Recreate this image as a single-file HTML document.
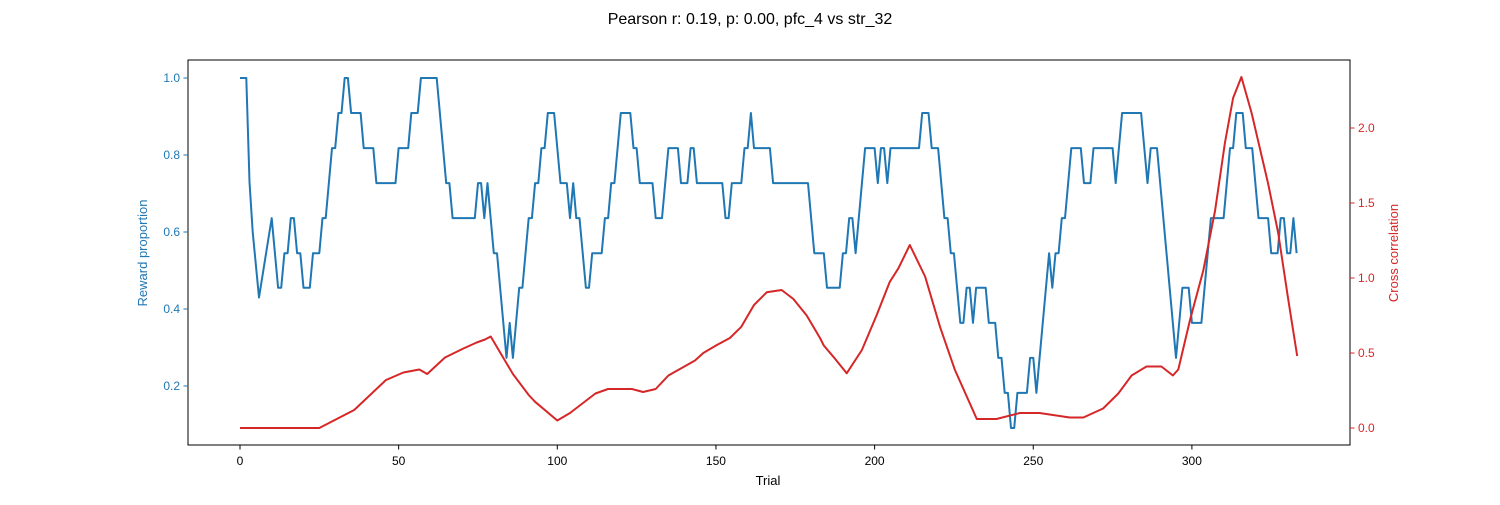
<!DOCTYPE html>
<html><head><meta charset="utf-8"><style>
body{margin:0;background:#fff}
svg text{font-family:"Liberation Sans","DejaVu Sans",sans-serif}
</style></head><body>
<svg id="chart" width="1500" height="500" xmlns="http://www.w3.org/2000/svg">
<rect width="1500" height="500" fill="#fff"/>
<text x="750" y="24" text-anchor="middle" font-size="16">Pearson r: 0.19, p: 0.00, pfc_4 vs str_32</text>
<g id="marks"></g>
<rect x="188" y="60" width="1162" height="385" fill="none" stroke="#000" stroke-width="1"/>
<g id="axes"></g>
<text x="768" y="485" text-anchor="middle" font-size="13">Trial</text>
<text transform="translate(147,253) rotate(-90)" text-anchor="middle" font-size="13" fill="#1f77b4">Reward proportion</text>
<text transform="translate(1398,253) rotate(-90)" text-anchor="middle" font-size="13" fill="#d62728">Cross correlation</text>
</svg>
<script>
const xTicks=[0,50,100,150,200,250,300];
const leftTicks=[0.2,0.4,0.6,0.8,1.0];
const rightTicks=[0.0,0.5,1.0,1.5,2.0];
const rewardTrials=[0,2,3,4,6,10,12,13,14,15,16,17,18,19,20,22,23,25,26,27,29,30,31,32,33,34,35,38,39,42,43,49,50,53,54,56,57,62,65,66,67,74,75,76,77,78,80,81,84,85,86,88,89,91,92,93,94,95,96,97,99,101,103,104,105,106,107,109,110,111,114,115,116,117,118,120,123,124,125,126,130,131,133,135,138,139,141,142,143,144,152,153,154,155,158,159,160,161,162,167,168,179,181,184,185,189,190,191,192,193,194,197,200,201,202,203,204,205,214,215,217,218,220,222,223,224,225,227,228,229,230,231,232,235,236,238,239,240,241,242,243,244,245,248,249,250,251,255,256,257,258,259,260,262,265,266,268,269,275,276,278,284,286,287,289,295,297,299,300,303,306,310,312,313,314,316,317,319,321,324,325,327,328,329,330,331,332,333];
const rewardValues=[1,1,0.73,0.6,0.43,0.636,0.455,0.455,0.545,0.545,0.636,0.636,0.545,0.545,0.455,0.455,0.545,0.545,0.636,0.636,0.818,0.818,0.909,0.909,1,1,0.909,0.909,0.818,0.818,0.727,0.727,0.818,0.818,0.909,0.909,1,1,0.727,0.727,0.636,0.636,0.727,0.727,0.636,0.727,0.545,0.545,0.273,0.364,0.273,0.455,0.455,0.636,0.636,0.727,0.727,0.818,0.818,0.909,0.909,0.727,0.727,0.636,0.727,0.636,0.636,0.455,0.455,0.545,0.545,0.636,0.636,0.727,0.727,0.909,0.909,0.818,0.818,0.727,0.727,0.636,0.636,0.818,0.818,0.727,0.727,0.818,0.818,0.727,0.727,0.636,0.636,0.727,0.727,0.818,0.818,0.909,0.818,0.818,0.727,0.727,0.545,0.545,0.455,0.455,0.545,0.545,0.636,0.636,0.545,0.818,0.818,0.727,0.818,0.818,0.727,0.818,0.818,0.909,0.909,0.818,0.818,0.636,0.636,0.545,0.545,0.364,0.364,0.455,0.455,0.364,0.455,0.455,0.364,0.364,0.273,0.273,0.182,0.182,0.091,0.091,0.182,0.182,0.273,0.273,0.182,0.545,0.455,0.545,0.545,0.636,0.636,0.818,0.818,0.727,0.727,0.818,0.818,0.727,0.909,0.909,0.727,0.818,0.818,0.273,0.455,0.455,0.364,0.364,0.636,0.636,0.818,0.818,0.909,0.909,0.818,0.818,0.636,0.636,0.545,0.545,0.636,0.636,0.545,0.545,0.636,0.545];
const corrTrials=[0,25,36,46,51.5,56.5,59,64.6,70.4,74.6,77.2,79,86,91,93,100,104,112,116,123.5,127,131,135,143.4,146,150,154.4,158,162,166,170.7,174.4,178.6,182.8,184,187,191.2,196,200.6,204.8,207.5,211.1,215.9,220.6,225.3,232.2,238.4,245.8,252,261.5,265.8,272,276.8,281,285.7,290.4,294,295.7,299.4,303.6,307.3,310.4,313,315.6,318.8,324,327.2,330.4,333.2];
const corrValues=[0,0,0.12,0.32,0.37,0.39,0.36,0.47,0.53,0.57,0.59,0.61,0.36,0.22,0.175,0.05,0.1,0.23,0.26,0.26,0.24,0.26,0.35,0.45,0.5,0.55,0.6,0.675,0.82,0.905,0.92,0.86,0.75,0.6,0.55,0.475,0.365,0.52,0.75,0.975,1.065,1.22,1.01,0.675,0.387,0.06,0.06,0.1,0.1,0.07,0.07,0.13,0.23,0.35,0.41,0.41,0.35,0.39,0.72,1.05,1.45,1.9,2.2,2.34,2.1,1.63,1.3,0.85,0.48];

const X=t=>240+t*3.173;
const YL=v=>78+(1-v)*385;
const YR=v=>428-v*150;
const NS='http://www.w3.org/2000/svg';
const marks=document.getElementById('marks'), axes=document.getElementById('axes');
function mk(tag,attrs,parent){const e=document.createElementNS(NS,tag);for(const k in attrs)e.setAttribute(k,attrs[k]);parent.appendChild(e);return e;}

let d=rewardTrials.map((t,i)=>(i?'L':'M')+X(t).toFixed(1)+','+YL(rewardValues[i]).toFixed(1)).join('');
const pb=mk('path',{d:d,fill:'none',stroke:'#1f77b4','stroke-width':2,'stroke-linejoin':'round'},marks);


d=corrTrials.map((t,i)=>(i?'L':'M')+X(t).toFixed(1)+','+YR(corrValues[i]).toFixed(1)).join('');
const pr=mk('path',{d:d,fill:'none',stroke:'#d62728','stroke-width':2,'stroke-linejoin':'round'},marks);



xTicks.forEach(t=>{
  mk('line',{x1:X(t),x2:X(t),y1:445,y2:449.5,stroke:'#000'},axes);
  const tx=mk('text',{x:X(t),y:465,'text-anchor':'middle','font-size':12},axes);
  tx.textContent=t;
  
  
});
leftTicks.forEach(v=>{
  mk('line',{x1:183.5,x2:188,y1:YL(v),y2:YL(v),stroke:'#1f77b4'},axes);
  const tx=mk('text',{x:180,y:YL(v)+4,'text-anchor':'end','font-size':12,fill:'#1f77b4'},axes);
  tx.textContent=v.toFixed(1);
  
  
});
rightTicks.forEach(v=>{
  mk('line',{x1:1350,x2:1354.5,y1:YR(v),y2:YR(v),stroke:'#d62728'},axes);
  const tx=mk('text',{x:1358,y:YR(v)+4,'text-anchor':'start','font-size':12,fill:'#d62728'},axes);
  tx.textContent=v.toFixed(1);
  
  
});
</script>
</body></html>
